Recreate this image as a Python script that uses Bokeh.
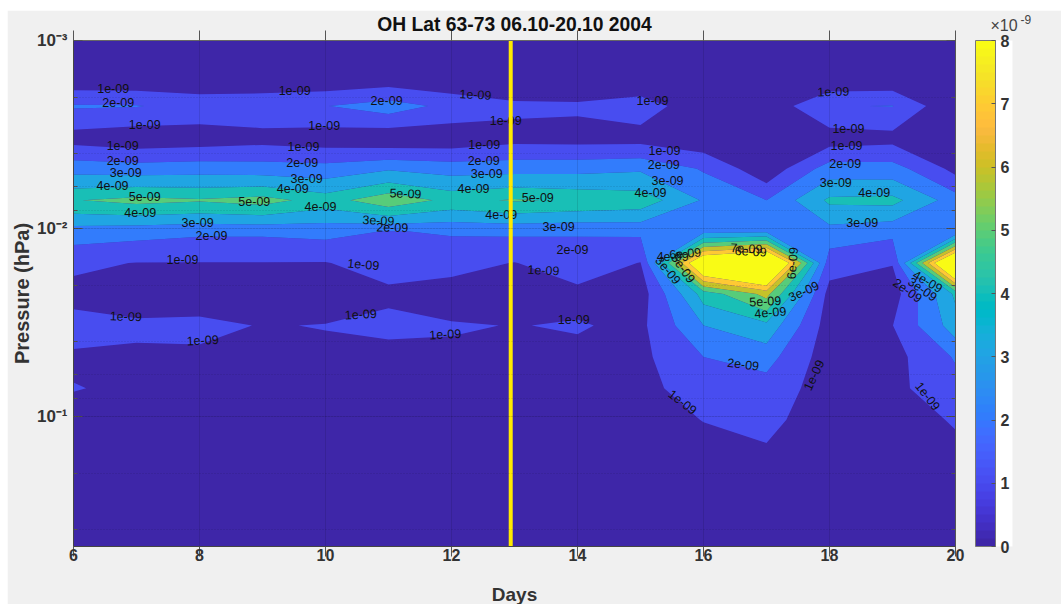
import numpy as np
from bokeh.plotting import figure
from bokeh.embed import file_html
from bokeh.resources import INLINE
from bokeh.core.properties import value
from bokeh.models import (Range1d, LinearAxis, LogAxis, LogTicker, FixedTicker, Label, ColorBar, Title,
                          LinearColorMapper, CustomJSTickFormatter, ColumnDataSource)

TITLE = "OH Lat 63-73 06.10-20.10 2004"
days = [6, 7, 8, 9, 10, 11, 12, 13, 14, 15, 16, 17, 18, 19, 20]
pressure = [0.001, 0.00152, 0.00223, 0.00328, 0.00481, 0.00706, 0.01037, 0.01524, 0.0223,
            0.0328, 0.0481, 0.0706, 0.1037, 0.152, 0.223, 0.328, 0.481, 0.706]
# OH, in units of 1e-9, one list per pressure level, one value per day
oh_p0 = [.05, .05, .05, .05, .05, .05, .05, .05, .05, .05, .05, .05, .05, .05, .05]
oh_p1 = [.1, .1, .1, .1, .1, .2, .1, .1, .1, .1, .1, .1, .1, .1, .1]
oh_p2 = [2.1, 2.05, 1.65, 1.74, 1.97, 2.5, 1.7, 1.21, 1.16, 1.5, .34, .3, 1.95, 2.03, .1]
oh_p3 = [.57, .3, .42, .62, .43, .2, .3, .64, .59, .6, .3, .4, .49, .66, .4]
oh_p4 = [2.65, 2.5, 2.6, 2.5, 2.4, 2.9, 2.6, 2.66, 2.7, 2.86, 1.9, .3, 2.5, 2.45, .7]
oh_p5 = [4.95, 5.3, 5.1, 5.4, 4.55, 5.7, 4.7, 5.1, 4.85, 4.6, 2.9, 2.0, 4.2, 4.3, 2.5]
oh_p6 = [2.5, 2.35, 2.17, 2.17, 2.3, 1.95, 2.1, 2.17, 2.08, 2.18, 2.7, 2.85, 2.6, 2.24, 2.2]
oh_p7 = [1.2, .97, .97, .97, .95, 1.5, 1.3, .97, 1.5, .97, 10.1, 11.7, 1.4, 1.04, 11.5]
oh_p8 = [.66, .6, .6, .6, .6, .73, .55, .6, .73, .49, 4.4, 6.3, .62, .5, 4.2]
oh_p9 = [1.45, 1.15, 1.2, .96, 1.03, 1.4, 1.09, .97, 1.08, .77, 3.0, 3.7, .5, .98, 3.5]
oh_p10 = [.82, .85, .84, .8, .8, .4, .79, .7, .75, .76, 2.0, 2.38, .45, .65, 2.1]
oh_p11 = [1.05, .8, .7, .6, .6, .55, .55, .5, .6, .7, 1.5, 1.54, .55, .77, 1.6]
oh_p12 = [.5, .45, .4, .4, .4, .4, .4, .4, .4, .5, 1.03, 1.3, .35, .5, 1.1]
oh_p13 = [.3, .3, .3, .3, .3, .3, .3, .3, .3, .3, .6, .88, .3, .3, .75]
oh_p14 = [.25, .25, .25, .25, .25, .25, .25, .25, .25, .25, .3, .5, .25, .25, .4]
oh_p15 = [.2, .2, .2, .2, .2, .2, .2, .2, .2, .2, .2, .25, .2, .2, .25]
oh_p16 = [.15, .15, .15, .15, .15, .15, .15, .15, .15, .15, .15, .15, .15, .15, .15]
oh_p17 = [.1, .1, .1, .1, .1, .1, .1, .1, .1, .1, .1, .1, .1, .1, .1]
oh = [oh_p0, oh_p1, oh_p2, oh_p3, oh_p4, oh_p5, oh_p6, oh_p7, oh_p8, oh_p9, oh_p10, oh_p11,
      oh_p12, oh_p13, oh_p14, oh_p15, oh_p16, oh_p17]
levels = [0, 1, 2, 3, 4, 5, 6, 7, 8, 30]
colorbar_ticks = [0, 1, 2, 3, 4, 5, 6, 7, 8]
x_ticks = [6, 8, 10, 12, 14, 16, 18, 20]
y_ticks = [0.001, 0.01, 0.1]
y_tick_labels = ["10\u207b\u00b3", "10\u207b\u00b2", "10\u207b\u00b9"]
marker_day = 12.94

label_text = ["1e-09", "2e-09", "1e-09", "1e-09", "2e-09", "3e-09", "4e-09", "5e-09", "4e-09", "3e-09", "2e-09", "1e-09", "5e-09",
              "1e-09", "1e-09", "1e-09", "2e-09", "3e-09", "4e-09", "4e-09",
              "2e-09", "5e-09", "3e-09", "2e-09", "1e-09",
              "1e-09", "1e-09", "1e-09", "2e-09", "3e-09", "4e-09", "5e-09", "4e-09",
              "3e-09", "2e-09", "1e-09", "1e-09", "1e-09", "2e-09", "3e-09", "4e-09",
              "7e-09", "6e-09", "6e-09", "5e-09", "4e-09", "3e-09", "3e-09", "4e-09", "6e-09", "5e-09",
              "4e-09", "3e-09", "2e-09",
              "1e-09", "1e-09", "1e-09", "1e-09", "1e-09", "2e-09", "1e-09", "1e-09", "1e-09",
              "1e-09", "1e-09", "1e-09", "2e-09", "3e-09", "4e-09", "3e-09"]
label_day = [6.63, 6.71, 7.13, 6.78, 6.78, 6.83, 6.62, 7.13, 7.06, 7.97, 8.19, 7.73, 8.87,
             9.51, 9.98, 9.65, 9.63, 9.70, 9.48, 9.92,
             10.97, 11.27, 10.84, 11.06, 10.60,
             12.38, 12.86, 12.52, 12.51, 12.56, 12.35, 13.37, 12.79,
             13.70, 13.92, 13.46, 15.19, 15.38, 15.37, 15.43, 15.16,
             16.68, 16.75, 17.41, 16.98, 17.06, 17.59, 15.44, 15.51, 15.71, 15.68,
             19.56, 19.48, 19.24,
             6.83, 8.05, 10.56, 11.90, 13.94, 16.63, 15.67, 17.75, 19.56,
             18.06, 18.30, 18.27, 18.25, 18.10, 18.71, 18.52]
label_logp = [-2.745, -2.671, -2.554, -2.442, -2.363, -2.299, -2.230, -2.172, -2.087, -2.033, -1.964, -1.837, -2.145,
              -2.734, -2.549, -2.437, -2.352, -2.267, -2.214, -2.118,
              -2.681, -2.187, -2.044, -2.007, -1.810,
              -2.713, -2.575, -2.448, -2.363, -2.294, -2.214, -2.166, -2.076,
              -2.012, -1.890, -1.779, -2.681, -2.416, -2.341, -2.257, -2.193,
              -1.895, -1.879, -1.816, -1.614, -1.555, -1.667, -1.779, -1.853, -1.869, -1.789,
              -1.720, -1.678, -1.672,
              -1.534, -1.407, -1.545, -1.439, -1.518, -1.279, -1.078, -1.221, -1.109,
              -2.729, -2.533, -2.442, -2.347, -2.246, -2.193, -2.033]
label_angle = [0, 0, 0, 0, 0, 0, 0, 0, 0, 0, 0, 0, 0,
               0, 0, 0, 0, 0, 0, 0,
               0, -2, -3, -1, -5,
               -3, 0, 0, 0, 0, 0, 0, 0,
               0, 0, -3, 0, 0, 0, 0, 0,
               -3, -3, 85, 3, 5, 25, -50, 0, 5, -55,
               -30, -35, -35,
               -2, 3, 3, 3, 0, -7, -38, 65, -52,
               2, 0, 0, 0, 0, 0, 0]

parula = ["#%02x%02x%02x" % tuple(int(round(c * 255)) for c in rgb) for rgb in [
    (.2422, .1504, .6603), (.2504, .1650, .7076), (.2578, .1818, .7511), (.2647, .1978, .7952),
    (.2706, .2147, .8364), (.2751, .2342, .8710), (.2783, .2559, .8991), (.2803, .2782, .9221),
    (.2813, .3006, .9414), (.2810, .3228, .9579), (.2795, .3447, .9717), (.2760, .3667, .9829),
    (.2699, .3892, .9906), (.2602, .4123, .9952), (.2440, .4358, .9988), (.2206, .4603, .9973),
    (.1963, .4847, .9892), (.1834, .5074, .9798), (.1786, .5289, .9682), (.1764, .5499, .9520),
    (.1687, .5703, .9359), (.1540, .5902, .9218), (.1460, .6091, .9079), (.1380, .6276, .8973),
    (.1248, .6459, .8883), (.1113, .6635, .8763), (.0952, .6798, .8598), (.0689, .6948, .8394),
    (.0297, .7082, .8163), (.0036, .7203, .7917), (.0067, .7312, .7660), (.0433, .7411, .7394),
    (.0964, .7500, .7120), (.1408, .7584, .6842), (.1717, .7670, .6554), (.1938, .7758, .6251),
    (.2161, .7843, .5923), (.2470, .7918, .5567), (.2906, .7973, .5188), (.3406, .8008, .4789),
    (.3909, .8029, .4354), (.4456, .8024, .3909), (.5044, .7993, .3480), (.5616, .7942, .3045),
    (.6174, .7876, .2612), (.6720, .7793, .2227), (.7242, .7698, .1910), (.7738, .7598, .1646),
    (.8203, .7498, .1535), (.8634, .7406, .1596), (.9035, .7330, .1774), (.9393, .7288, .2100),
    (.9728, .7298, .2394), (.9956, .7434, .2371), (.9970, .7659, .2199), (.9952, .7893, .2028),
    (.9892, .8136, .1885), (.9786, .8386, .1766), (.9676, .8639, .1643), (.9610, .8890, .1537),
    (.9597, .9135, .1423), (.9628, .9373, .1265), (.9691, .9606, .1064), (.9769, .9839, .0805)]]

FONT = "Liberation Sans"
DARK = "#333333"
p = figure(frame_width=882, frame_height=506, output_backend="svg", toolbar_location=None,
           x_range=Range1d(6, 20), y_range=Range1d(0.49, 0.001), y_axis_type="log",
           min_border_left=66, min_border_right=106, min_border_top=30, min_border_bottom=58,
           border_fill_color="#f0f0f0", background_fill_color="#3e26a8",
           outline_line_color="#555555", outline_line_width=1, margin=(10, 0, 0, 7))

band_colors = [parula[int(round(lv / 8 * 63))] for lv in levels[:-1]]
p.contour(days, pressure, np.array(oh), levels, fill_color=band_colors, line_color=None)

# contour labels
src = ColumnDataSource(dict(x=label_day, y=[10 ** v for v in label_logp], text=label_text,
                            angle=label_angle))
p.text(x="x", y="y", text="text", angle="angle", angle_units="deg", source=src,
       text_font=value(FONT), text_font_size="12.5px", text_color="#101010",
       text_align="center", text_baseline="middle")

# marker line
p.line([marker_day, marker_day], [pressure[0], 0.49], line_color="#ffea00", line_width=4)

# axes
xa = p.xaxis[0]
ya = p.yaxis[0]
xa.ticker = FixedTicker(ticks=x_ticks)
xa.minor_tick_line_color = None
xa.major_tick_in = 0
xa.major_tick_out = 10
xa.major_label_standoff = -8
xa.major_label_text_font = FONT
xa.major_label_text_font_style = "bold"
xa.major_label_text_font_size = "16px"
xa.major_label_text_color = DARK
xa.major_tick_line_color = "#555555"
xa.axis_line_color = "#444444"
xa.axis_label = "Days"
xa.axis_label_text_font = FONT
xa.axis_label_text_font_style = "bold"
xa.axis_label_text_font_size = "19px"
xa.axis_label_text_color = DARK
xa.axis_label_standoff = 20

ya.ticker = LogTicker()
ya.major_label_overrides = {t: s for t, s in zip(y_ticks, y_tick_labels)}
ya.major_label_standoff = 6
ya.major_label_text_font = FONT
ya.major_label_text_font_style = "bold"
ya.major_label_text_font_size = "17px"
ya.major_label_text_color = DARK
ya.major_tick_in = 9
ya.major_tick_out = 0
ya.minor_tick_in = 4
ya.minor_tick_out = 0
ya.major_tick_line_color = "#555555"
ya.minor_tick_line_color = "#555555"
ya.axis_line_color = "#444444"
ya.axis_label = "Pressure (hPa)"
ya.axis_label_text_font = FONT
ya.axis_label_text_font_style = "bold"
ya.axis_label_text_font_size = "20px"
ya.axis_label_text_color = DARK
ya.axis_label_standoff = 1

top = LinearAxis(ticker=FixedTicker(ticks=x_ticks), major_tick_in=0, major_tick_out=10,
                 minor_tick_line_color=None, major_tick_line_color="#555555",
                 axis_line_color="#666666",
                 formatter=CustomJSTickFormatter(code="return ''"))
p.add_layout(top, "above")
right = LogAxis(ticker=LogTicker(), major_tick_in=9, major_tick_out=0, minor_tick_in=4, minor_tick_out=0,
                major_tick_line_color="#555555", minor_tick_line_color="#555555",
                axis_line_color="#555555",
                formatter=CustomJSTickFormatter(code="return ''"))
p.add_layout(right, "right")

# grid drawn on top of the fill, as in the source
p.xgrid[0].ticker = FixedTicker(ticks=x_ticks)
p.xgrid.level = "overlay"
p.ygrid.level = "overlay"
p.xgrid.grid_line_color = "#000000"
p.xgrid.grid_line_alpha = 0.1
p.ygrid.grid_line_color = "#000000"
p.ygrid.grid_line_alpha = 0.08
p.ygrid.minor_grid_line_color = "#000000"
p.ygrid.minor_grid_line_alpha = 0.15
p.ygrid.minor_grid_line_dash = "1 2"

# colour bar
mapper = LinearColorMapper(palette=parula, low=0, high=8)
cb = ColorBar(color_mapper=mapper, ticker=FixedTicker(ticks=colorbar_ticks), width=20, height=506,
              location=(20, 0), margin=0, padding=0, major_tick_in=4, major_tick_line_color="#555555",
              bar_line_color="#777777", minor_tick_line_color=None, label_standoff=5,
              major_label_text_font=FONT, major_label_text_font_style="bold",
              major_label_text_font_size="16px", major_label_text_color=DARK,
              major_label_overrides={t: str(t) for t in colorbar_ticks})
p.add_layout(cb, "right")

p.add_layout(Title(text=TITLE, align="center", standoff=-8, offset=-5, text_font=FONT, text_font_size="19.3px",
                   text_font_style="bold", text_color="#111111"), "above")
p.add_layout(Label(x=983, y=15, x_units="canvas", y_units="canvas", text="\u00d710", text_font=FONT,
                   text_font_size="16px", text_baseline="middle", text_color="#444444"), "right")
p.add_layout(Label(x=1013, y=9, x_units="canvas", y_units="canvas", text="-9", text_font=FONT,
                   text_font_size="12px", text_baseline="middle", text_color="#444444"), "right")

open("out.html", "w").write(file_html(p, INLINE))
